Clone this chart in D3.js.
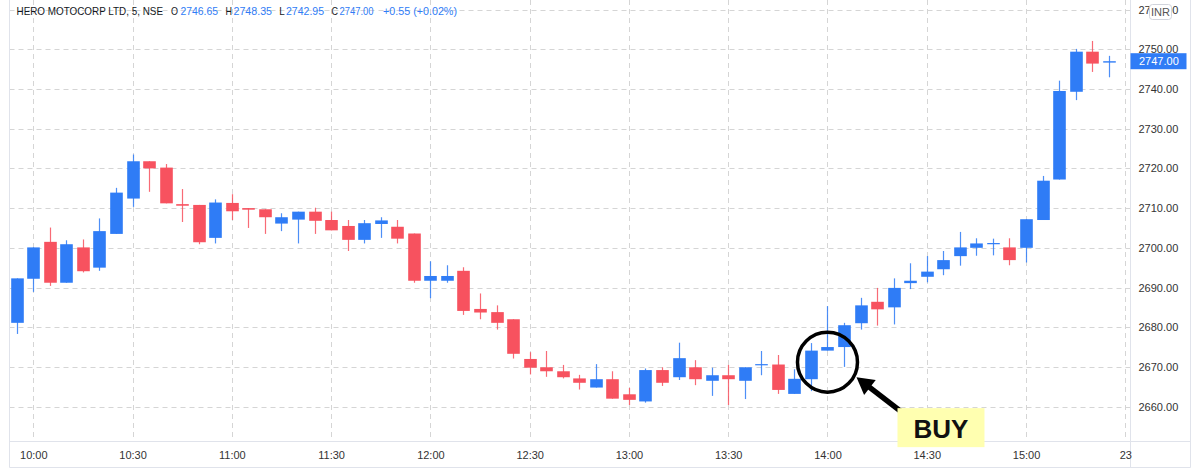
<!DOCTYPE html>
<html><head><meta charset="utf-8">
<script src="https://cdn.jsdelivr.net/npm/d3@7"></script>
<style>
body{margin:0;background:#fff;}
svg{display:block;font-family:"Liberation Sans",Arial,sans-serif;}
</style>
</head><body>
<svg id="c" width="1200" height="473"></svg>
<script>
const times = ["09:55","10:00","10:05","10:10","10:15","10:20","10:25","10:30","10:35","10:40","10:45","10:50","10:55",
"11:00","11:05","11:10","11:15","11:20","11:25","11:30","11:35","11:40","11:45","11:50","11:55",
"12:00","12:05","12:10","12:15","12:20","12:25","12:30","12:35","12:40","12:45","12:50","12:55",
"13:00","13:05","13:10","13:15","13:20","13:25","13:30","13:35","13:40","13:45","13:50","13:55",
"14:00","14:05","14:10","14:15","14:20","14:25","14:30","14:35","14:40","14:45","14:50","14:55",
"15:00","15:05","15:10","15:15","15:20","15:25"];
const opens = [2681.1,2692.2,2701.5,2691.2,2700.1,2695.0,2703.5,2712.4,2721.8,2720.2,2711.0,2710.8,2702.5,
2711.3,2710.0,2709.7,2706.1,2707.1,2709.1,2707.0,2705.5,2702.0,2706.0,2705.3,2703.6,
2691.7,2691.7,2694.2,2684.6,2683.8,2682.0,2672.0,2669.9,2668.9,2667.1,2664.8,2666.9,
2663.1,2661.3,2669.2,2667.4,2669.9,2666.5,2667.9,2666.5,2670.5,2670.6,2663.2,2666.9,
2674.1,2675.0,2681.0,2686.4,2685.0,2691.1,2692.7,2694.6,2697.9,2700.0,2700.9,2700.1,
2700.0,2707.0,2717.2,2739.3,2749.4,2746.65];
const highs = [2692.3,2700.1,2705.1,2701.9,2702.1,2707.4,2715.1,2723.5,2721.8,2721.1,2714.8,2710.8,2712.2,
2713.5,2710.0,2709.7,2708.7,2709.1,2710.1,2709.1,2707.0,2707.0,2707.7,2707.0,2703.6,
2696.6,2695.6,2695.1,2688.5,2685.5,2682.0,2673.7,2674.0,2670.5,2668.0,2670.7,2668.9,
2664.7,2669.6,2669.9,2676.1,2671.7,2669.8,2670.5,2669.9,2674.0,2673.0,2669.4,2676.0,
2685.3,2681.1,2687.4,2689.9,2692.3,2696.1,2697.9,2699.2,2704.0,2702.4,2702.3,2702.4,
2707.2,2718.1,2742.1,2750.1,2752.1,2748.35];
const lows = [2678.3,2688.9,2690.4,2691.2,2693.8,2694.2,2703.5,2710.3,2714.1,2711.2,2706.5,2700.9,2701.1,
2707.0,2705.0,2703.5,2704.2,2701.1,2703.5,2704.4,2699.2,2701.1,2702.5,2701.1,2691.2,
2687.3,2691.2,2683.1,2682.0,2679.4,2672.1,2668.1,2667.5,2667.1,2664.3,2664.8,2662.0,
2660.4,2661.0,2665.2,2666.7,2665.4,2662.7,2660.4,2661.9,2667.9,2663.2,2663.2,2663.9,
2674.1,2670.0,2679.4,2680.4,2680.7,2689.6,2691.3,2693.1,2695.5,2698.0,2698.1,2695.6,
2696.3,2707.0,2717.2,2737.2,2744.3,2742.95];
const closes = [2692.3,2700.1,2691.2,2700.9,2694.1,2704.2,2713.9,2721.8,2720.0,2711.2,2710.6,2701.4,2711.4,
2709.2,2709.6,2707.7,2707.7,2709.1,2706.8,2704.4,2702.0,2706.2,2706.9,2702.3,2691.7,
2692.9,2692.9,2684.1,2683.7,2681.1,2673.3,2669.8,2668.9,2667.4,2666.0,2666.9,2662.0,
2661.7,2669.2,2666.0,2672.2,2666.9,2667.9,2666.9,2669.9,2670.7,2664.2,2667.0,2674.1,
2675.0,2680.5,2685.5,2684.5,2689.9,2691.7,2694.0,2696.9,2700.1,2701.1,2701.2,2696.9,
2707.2,2716.9,2739.5,2749.4,2746.4,2747.00];
const priceTicks = [2660,2670,2680,2690,2700,2710,2720,2730,2740,2750,2760];
const timeTickPos = ["10:00","10:30","11:00","11:30","12:00","12:30","13:00","13:30","14:00","14:30","15:00","15:30"];
const timeTickLabels = ["10:00","10:30","11:00","11:30","12:00","12:30","13:00","13:30","14:00","14:30","15:00","23"];
const header = {name:"HERO MOTOCORP LTD, 5, NSE", O:"2746.65", H:"2748.35", L:"2742.95", C:"2747.00", chg:"+0.55 (+0.02%)"};
const lastPrice = 2747.00;
const buyNote = {time:"14:00", price:2671.2, text:"BUY"};

const UP = "#2f7cf6", DOWN = "#f7525f", GRID = "#d5d5d5", TXT = "#333";
const svg = d3.select("#c");
const L = 9.5, R = 1130.5, T = 0, B = 441.5, RA = 1190.5, BA = 467.5;

const mins = t => { const [h,m] = t.split(":").map(Number); return h*60+m; };
const x = d3.scaleLinear().domain([mins("10:00"), mins("15:30")]).range([33.3, 1125.3]);
const y = d3.scaleLinear().domain([2660, 2750]).range([406.6, 49.3]);

const data = times.map((t,i)=>({t, o:opens[i], h:highs[i], l:lows[i], c:closes[i]}));

svg.append("defs").append("clipPath").attr("id","plot")
  .append("rect").attr("x",L).attr("y",T).attr("width",R-L).attr("height",B-T);

// grid
const grid = svg.append("g").attr("clip-path","url(#plot)");
grid.selectAll("line.h").data(priceTicks).join("line")
  .attr("x1",L).attr("x2",R).attr("y1",d=>Math.round(y(d))+0.5).attr("y2",d=>Math.round(y(d))+0.5)
  .attr("stroke",GRID).attr("stroke-dasharray","5,4");
grid.selectAll("line.v").data(timeTickPos).join("line")
  .attr("x1",d=>Math.round(x(mins(d)))+0.5).attr("x2",d=>Math.round(x(mins(d)))+0.5).attr("y1",T).attr("y2",B)
  .attr("stroke",GRID).attr("stroke-dasharray","5,4");

// candles
const cg = svg.append("g").attr("clip-path","url(#plot)");
const bw = 12.6;
cg.selectAll("line.w").data(data).join("line")
  .attr("x1",d=>Math.round(x(mins(d.t)))+0.5).attr("x2",d=>Math.round(x(mins(d.t)))+0.5)
  .attr("y1",d=>y(d.h)).attr("y2",d=>y(d.l))
  .attr("stroke",d=>d.c>=d.o?UP:DOWN).attr("stroke-width",1.2).attr("opacity",0.85);
cg.selectAll("rect.b").data(data).join("rect")
  .attr("x",d=>Math.round(x(mins(d.t)))+0.5-bw/2).attr("width",bw)
  .attr("y",d=>y(Math.max(d.o,d.c))).attr("height",d=>Math.max(1.2, y(Math.min(d.o,d.c))-y(Math.max(d.o,d.c))))
  .attr("fill",d=>d.c>=d.o?UP:DOWN);

// frame
const FR = "#e0e3eb";
svg.append("line").attr("x1",L).attr("x2",L).attr("y1",0).attr("y2",BA).attr("stroke",FR);
svg.append("line").attr("x1",RA).attr("x2",RA).attr("y1",0).attr("y2",BA).attr("stroke",FR);
svg.append("line").attr("x1",L).attr("x2",RA).attr("y1",BA).attr("y2",BA).attr("stroke",FR);
svg.append("line").attr("x1",L).attr("x2",RA).attr("y1",B).attr("y2",B).attr("stroke",FR);
svg.append("line").attr("x1",R).attr("x2",R).attr("y1",0).attr("y2",BA).attr("stroke",FR);

// right price axis
const ya = svg.append("g").attr("transform",`translate(${R},0)`)
  .call(d3.axisRight(y).tickValues(priceTicks).tickFormat(d3.format(".2f")).tickSize(0).tickPadding(8));
ya.select(".domain").remove();
ya.selectAll("text").attr("fill",TXT).attr("font-size",11).attr("font-family","Liberation Sans, Arial, sans-serif");

// bottom time axis
const xa = svg.append("g").attr("transform",`translate(0,${B})`)
  .call(d3.axisBottom(x).tickValues(timeTickPos.map(mins)).tickFormat((d,i)=>timeTickLabels[i]).tickSize(0).tickPadding(10));
xa.select(".domain").remove();
xa.selectAll("text").attr("fill",TXT).attr("font-size",11).attr("font-family","Liberation Sans, Arial, sans-serif");

// last price label
const lp = svg.append("g").attr("transform",`translate(${R},${y(lastPrice)})`);
lp.append("rect").attr("x",0).attr("y",-8).attr("width",56).attr("height",16).attr("fill",UP);
lp.append("text").attr("x",8.5).attr("y",4).attr("fill","#fff").attr("font-size",11).text(d3.format(".2f")(lastPrice));

// INR badge
const inr = svg.append("g").attr("transform","translate(1149.5,4.5)");
inr.append("rect").attr("width",22).attr("height",15).attr("rx",3).attr("fill","#fff").attr("stroke","#d1d4dc");
inr.append("text").attr("x",11).attr("y",11.5).attr("text-anchor","middle").attr("fill","#555").attr("font-size",11).text("INR");

// header
const hg = svg.append("g").attr("font-size",11).attr("fill","#131722");
const seg = (txt, x0, w, col) => hg.append("text").attr("x",x0).attr("y",15).attr("fill",col||"#131722")
  .attr("textLength",w).attr("lengthAdjust","spacingAndGlyphs").text(txt);
seg(header.name, 16.5, 146.5);
seg("O", 171, 7); seg(header.O, 180.5, 37.5, UP);
seg("H", 225.5, 6.5); seg(header.H, 233.5, 38.5, UP);
seg("L", 279.3, 5.5); seg(header.L, 286, 38, UP);
seg("C", 331.5, 6.5); seg(header.C, 339.5, 34, UP);
seg(header.chg, 383, 74, UP);

// BUY annotation
const cx = x(mins(buyNote.time)), cy = y(buyNote.price);
const ann = svg.append("g");
ann.append("circle").attr("cx",cx).attr("cy",cy).attr("r",30).attr("fill","none").attr("stroke","#000").attr("stroke-width",3.5);
const tip = [cx+29, cy+15], tail = [cx+73, cy+49];
const dx = tip[0]-tail[0], dy = tip[1]-tail[1], len = Math.hypot(dx,dy), ux = dx/len, uy = dy/len;
const hl = 17, hw = 9.5;
const base = [tip[0]-ux*hl, tip[1]-uy*hl];
ann.append("line").attr("x1",tail[0]).attr("y1",tail[1]).attr("x2",base[0]+ux*2).attr("y2",base[1]+uy*2)
  .attr("stroke","#000").attr("stroke-width",5.5);
ann.append("polygon").attr("points",[
  tip, [base[0]-uy*hw, base[1]+ux*hw], [base[0]+uy*hw, base[1]-ux*hw]
].map(p=>p.join(",")).join(" ")).attr("fill","#000");
ann.append("rect").attr("x",cx+70).attr("y",cy+46).attr("width",87).attr("height",39).attr("fill","#ffffb0");
ann.append("text").attr("x",cx+113.5).attr("y",cy+76).attr("text-anchor","middle").attr("font-size",26)
  .attr("font-weight","bold").attr("fill","#111").text(buyNote.text);
</script>
</body></html>
